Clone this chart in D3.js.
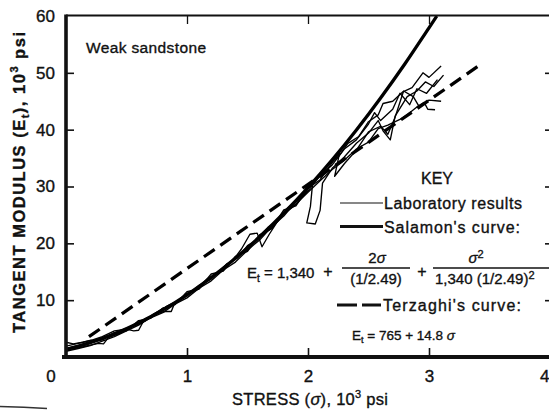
<!DOCTYPE html>
<html>
<head>
<meta charset="utf-8">
<script src="https://cdn.jsdelivr.net/npm/d3@7"></script>
<style>
  html, body { margin: 0; padding: 0; background: #fff; }
  svg { display: block; }
  text { font-family: "Liberation Sans", Arial, sans-serif; fill: #111; stroke: #111; stroke-width: 0.35px; }
</style>
</head>
<body>
<svg id="chart" width="549" height="410"></svg>
<script>
// Axis tick values (stress and modulus both in 10^3 psi)
const xTicks = [1, 2, 3, 4];
const yTicks = [10, 20, 30, 40, 50, 60];

// Salamon's curve: Et = 1,340 + 2σ/(1/2.49) + σ²/(1,340 (1/2.49)²)
const salamonStress  = [0, 0.2, 0.4, 0.6, 0.8, 1.0, 1.2, 1.4, 1.6, 1.8, 2.0, 2.2, 2.4, 2.6, 2.8, 3.0, 3.065];
const salamonModulus = [1.34, 2.52, 4.07, 5.99, 8.29, 10.95, 13.98, 17.38, 21.15, 25.30, 29.81, 34.69, 39.94, 45.57, 51.56, 57.92, 60.0];

// Terzaghi's curve: Et = 765 + 14.8σ
const terzaghiStress  = [0.19, 3.42];
const terzaghiModulus = [3.58, 51.38];

// Laboratory results, [stress, tangent modulus]
const labRun1 = [[0,1.5],[0.08,1.9],[0.16,2.3],[0.25,2.9],[0.33,3.5],[0.42,4.3],[0.5,5.1],[0.58,5.8],[0.67,6.9],[0.75,7.6],[0.83,8.9],[0.92,9.8],[1.0,11.2],[1.08,12.0],[1.17,13.8],[1.25,14.6],[1.33,16.4],[1.42,17.5],[1.5,19.6],[1.58,20.6],[1.67,22.8],[1.75,24.0],[1.83,26.2],[1.92,27.6],[2.0,30.2],[2.08,31.4],[2.17,34.0],[2.25,35.2],[2.33,37.6],[2.42,38.8],[2.5,41.4],[2.58,42.6],[2.62,44.6],[2.7,45.0],[2.78,46.6],[2.86,47.4],[2.95,50.0],[3.0,49.2],[3.1,51.2]];
const labRun2 = [[0,1.2],[0.1,1.6],[0.2,2.1],[0.27,2.4],[0.31,2.3],[0.35,3.4],[0.45,4.2],[0.55,5.4],[0.65,6.3],[0.75,7.7],[0.82,8.0],[0.87,8.0],[0.9,9.6],[1.0,11.0],[1.1,12.0],[1.2,14.1],[1.3,15.3],[1.4,17.6],[1.5,18.8],[1.6,21.2],[1.7,22.6],[1.8,25.2],[1.9,26.8],[1.97,28.6],[2.04,31.0],[2.02,26.5],[1.99,23.6],[2.06,23.4],[2.1,25.8],[2.12,30.6],[2.2,33.2],[2.3,35.2],[2.4,37.6],[2.5,39.4],[2.58,41.6],[2.62,39.8],[2.68,38.2],[2.72,42.4],[2.82,45.8],[2.9,46.8],[2.97,48.4],[3.04,47.6],[3.12,49.6]];
const labRun3 = [[0,2.6],[0.06,2.3],[0.14,2.6],[0.22,3.0],[0.3,3.6],[0.4,4.6],[0.5,4.9],[0.56,4.6],[0.6,4.7],[0.64,6.3],[0.72,7.5],[0.8,8.5],[0.9,9.6],[1.0,10.8],[1.1,12.6],[1.2,13.7],[1.3,15.8],[1.38,17.0],[1.45,19.0],[1.52,21.6],[1.58,21.8],[1.62,19.4],[1.68,21.6],[1.74,23.6],[1.8,25.2],[1.9,26.9],[2.0,29.0],[2.1,31.0],[2.2,33.0],[2.3,34.6],[2.4,36.6],[2.5,37.8],[2.58,40.2],[2.66,40.8],[2.76,41.8],[2.83,42.8],[2.9,44.0],[2.96,44.8],[2.99,43.6],[3.05,43.5]];
const labRun4 = [[0,1.9],[0.1,2.4],[0.2,2.9],[0.3,3.0],[0.4,4.3],[0.5,4.6],[0.6,6.4],[0.7,6.8],[0.8,8.6],[0.9,9.2],[1.0,11.5],[1.1,12.0],[1.2,14.6],[1.3,15.1],[1.4,17.7],[1.5,18.6],[1.6,21.5],[1.7,22.6],[1.8,25.9],[1.9,26.6],[2.0,29.7],[2.1,31.2],[2.2,34.2],[2.26,35.8],[2.22,31.8],[2.3,34.0],[2.4,36.4],[2.5,39.6],[2.6,40.6],[2.66,39.2],[2.72,42.2],[2.79,46.8],[2.87,45.8],[2.92,44.0],[3.0,45.2],[3.1,45.0]];
const labRun5 = [[0,1.0],[0.1,1.5],[0.2,2.0],[0.3,2.8],[0.4,3.6],[0.5,4.6],[0.6,5.6],[0.7,6.9],[0.8,7.8],[0.9,9.3],[1.0,10.4],[1.1,12.1],[1.2,13.4],[1.3,15.3],[1.4,16.7],[1.5,18.8],[1.6,20.6],[1.7,22.9],[1.8,24.8],[1.9,27.3],[2.0,29.2],[2.1,31.9],[2.2,33.8],[2.3,36.6],[2.4,38.2],[2.5,41.0],[2.55,43.0],[2.6,41.6],[2.7,43.6],[2.76,46.4],[2.84,44.4],[2.9,47.2],[2.98,46.4],[3.07,48.8]];
const labRuns = [labRun1, labRun2, labRun3, labRun4, labRun5];

const svg = d3.select("#chart");
svg.append("rect").attr("width", 549).attr("height", 410).attr("fill", "#fff");

const x = d3.scaleLinear().domain([0, 4]).range([66, 550]);
const y = d3.scaleLinear().domain([0, 60]).range([357, 16]);

svg.append("clipPath").attr("id", "plot-clip")
  .append("rect").attr("x", 66).attr("y", 16).attr("width", 484).attr("height", 341);

const plot = svg.append("g").attr("clip-path", "url(#plot-clip)");

// Laboratory results: thin jagged traces
const labLine = d3.line().x(d => x(d[0])).y(d => y(d[1]));
plot.selectAll("path.lab").data(labRuns).join("path")
  .attr("class", "lab")
  .attr("d", labLine)
  .attr("fill", "none").attr("stroke", "#000").attr("stroke-width", 1.35)
  .attr("stroke-linejoin", "round");

// Salamon's curve
const salamonPts = salamonStress.map((s, i) => [s, salamonModulus[i]]);
plot.append("path")
  .attr("d", d3.line().x(d => x(d[0])).y(d => y(d[1])).curve(d3.curveMonotoneX)(salamonPts))
  .attr("fill", "none").attr("stroke", "#000").attr("stroke-width", 3.3);

// Terzaghi's curve
const terzPts = terzaghiStress.map((s, i) => [s, terzaghiModulus[i]]);
plot.append("path")
  .attr("d", d3.line().x(d => x(d[0])).y(d => y(d[1]))(terzPts))
  .attr("fill", "none").attr("stroke", "#000").attr("stroke-width", 3.3)
  .attr("stroke-dasharray", "13,7");

// Axes
const yAxis = d3.axisLeft(y).tickValues(yTicks).tickSize(-8).tickPadding(11);
const gy = svg.append("g").attr("transform", "translate(66,0)").call(yAxis);
gy.select(".domain").remove();
gy.selectAll(".tick line").attr("stroke", "#111").attr("stroke-width", 1.6);
gy.selectAll(".tick text").attr("font-size", 17).attr("fill", "#111");
gy.selectAll(".tick").filter(d => d === 60).select("line").remove();

const yRight = d3.axisRight(y).tickValues(yTicks.filter(v => v < 60)).tickSize(-5).tickFormat("");
const gyr = svg.append("g").attr("transform", "translate(550,0)").call(yRight);
gyr.select(".domain").remove();
gyr.selectAll(".tick line").attr("stroke", "#111").attr("stroke-width", 1.6);

const xAxis = d3.axisBottom(x).tickValues(xTicks).tickSize(-9).tickPadding(13).tickFormat(d3.format("d"));
const gx = svg.append("g").attr("transform", "translate(0,357)").call(xAxis);
gx.select(".domain").remove();
gx.selectAll(".tick line").attr("stroke", "#111").attr("stroke-width", 1.6);
gx.selectAll(".tick text").attr("font-size", 17).attr("fill", "#111");
// the last label sits against the right edge of the sheet
gx.selectAll(".tick").filter(d => d === 4).select("text").attr("text-anchor", "end").attr("x", -1);

const xTop = d3.axisTop(x).tickValues(xTicks.filter(v => v < 4)).tickSize(-8).tickFormat("");
const gxt = svg.append("g").attr("transform", "translate(0,16)").call(xTop);
gxt.select(".domain").remove();
gxt.selectAll(".tick line").attr("stroke", "#111").attr("stroke-width", 1.3);

// Frame: heavy left and bottom axes, lighter top edge
svg.append("line").attr("x1", x(0)).attr("x2", 550).attr("y1", 15.5).attr("y2", 15.5)
  .attr("stroke", "#111").attr("stroke-width", 2);
svg.append("line").attr("x1", x(0)).attr("x2", x(0)).attr("y1", 14.5).attr("y2", 359)
  .attr("stroke", "#111").attr("stroke-width", 3.6);
svg.append("line").attr("x1", 62).attr("x2", 550).attr("y1", 357).attr("y2", 357)
  .attr("stroke", "#111").attr("stroke-width", 4);

// Shared origin label
svg.append("text").attr("x", 51).attr("y", 382).attr("text-anchor", "middle")
  .attr("font-size", 17).text("0");

// Axis titles
const yTitle = svg.append("text")
  .attr("transform", "translate(25,182.5) rotate(-90)")
  .attr("text-anchor", "middle").attr("font-size", 16.5).attr("font-weight", "bold")
  .attr("textLength", 301).attr("lengthAdjust", "spacing");
yTitle.append("tspan").text("TANGENT MODULUS (E");
yTitle.append("tspan").attr("font-size", 11).attr("dy", 4).text("t");
yTitle.append("tspan").attr("dy", -4).text("), 10");
yTitle.append("tspan").attr("font-size", 11).attr("dy", -7).text("3");
yTitle.append("tspan").attr("dy", 7).text(" psi");

const xTitle = svg.append("text").attr("x", 232).attr("y", 405).attr("font-size", 16.5)
  .attr("textLength", 156).attr("lengthAdjust", "spacing");
xTitle.append("tspan").text("STRESS (");
xTitle.append("tspan").attr("font-style", "italic").text("σ");
xTitle.append("tspan").text("), 10");
xTitle.append("tspan").attr("font-size", 11).attr("dy", -7).text("3");
xTitle.append("tspan").attr("dy", 7).text(" psi");

// Panel label
svg.append("text").attr("x", 86).attr("y", 53).attr("font-size", 15.5)
  .attr("textLength", 120).attr("lengthAdjust", "spacing").text("Weak sandstone");

// Key
const key = svg.append("g");
key.append("text").attr("x", 437).attr("y", 184).attr("text-anchor", "middle")
  .attr("font-size", 16).text("KEY");

key.append("line").attr("x1", 340).attr("x2", 383).attr("y1", 203).attr("y2", 203)
  .attr("stroke", "#111").attr("stroke-width", 1.2);
key.append("text").attr("x", 384).attr("y", 209).attr("font-size", 16)
  .attr("textLength", 138).attr("lengthAdjust", "spacing").text("Laboratory results");

key.append("line").attr("x1", 340).attr("x2", 383).attr("y1", 226.5).attr("y2", 226.5)
  .attr("stroke", "#111").attr("stroke-width", 3.2);
key.append("text").attr("x", 384).attr("y", 233).attr("font-size", 16)
  .attr("textLength", 136).attr("lengthAdjust", "spacing").text("Salamon's curve:");

// Salamon formula
const f1 = key.append("text").attr("x", 247).attr("y", 278).attr("font-size", 15);
f1.append("tspan").text("E");
f1.append("tspan").attr("font-size", 10).attr("dy", 4).text("t");
f1.append("tspan").attr("dy", -4).text(" = 1,340");
key.append("text").attr("x", 328).attr("y", 277).attr("text-anchor", "middle")
  .attr("font-size", 16).text("+");
const num1 = key.append("text").attr("x", 377).attr("y", 263).attr("text-anchor", "middle").attr("font-size", 15);
num1.append("tspan").text("2");
num1.append("tspan").attr("font-style", "italic").text("σ");
key.append("line").attr("x1", 342).attr("x2", 410).attr("y1", 268).attr("y2", 268)
  .attr("stroke", "#111").attr("stroke-width", 1.3);
key.append("text").attr("x", 376).attr("y", 284).attr("text-anchor", "middle")
  .attr("font-size", 15).text("(1/2.49)");
key.append("text").attr("x", 422).attr("y", 277).attr("text-anchor", "middle")
  .attr("font-size", 16).text("+");
const num2 = key.append("text").attr("x", 476).attr("y", 263).attr("text-anchor", "middle").attr("font-size", 15);
num2.append("tspan").attr("font-style", "italic").text("σ");
num2.append("tspan").attr("font-size", 11).attr("dy", -5).text("2");
key.append("line").attr("x1", 433).attr("x2", 549).attr("y1", 268).attr("y2", 268)
  .attr("stroke", "#111").attr("stroke-width", 1.3);
const den2 = key.append("text").attr("x", 435).attr("y", 284).attr("font-size", 15);
den2.append("tspan").text("1,340 (1/2.49)");
den2.append("tspan").attr("font-size", 11).attr("dy", -5).text("2");

// Terzaghi legend entry and formula
key.append("line").attr("x1", 337).attr("x2", 381).attr("y1", 305).attr("y2", 305)
  .attr("stroke", "#111").attr("stroke-width", 3.2).attr("stroke-dasharray", "20,5");
key.append("text").attr("x", 383).attr("y", 311).attr("font-size", 16)
  .attr("textLength", 138).attr("lengthAdjust", "spacing").text("Terzaghi's curve:");
const f2 = key.append("text").attr("x", 352).attr("y", 340).attr("font-size", 13.5);
f2.append("tspan").text("E");
f2.append("tspan").attr("font-size", 9).attr("dy", 3).text("t");
f2.append("tspan").attr("dy", -3).text(" = 765 + 14.8 ");
f2.append("tspan").attr("font-style", "italic").text("σ");

// Stray mark along the lower left edge of the sheet
svg.append("path").attr("d", "M0,406.5 Q24,407 47,408.5")
  .attr("fill", "none").attr("stroke", "#333").attr("stroke-width", 1.4);
</script>
</body>
</html>
